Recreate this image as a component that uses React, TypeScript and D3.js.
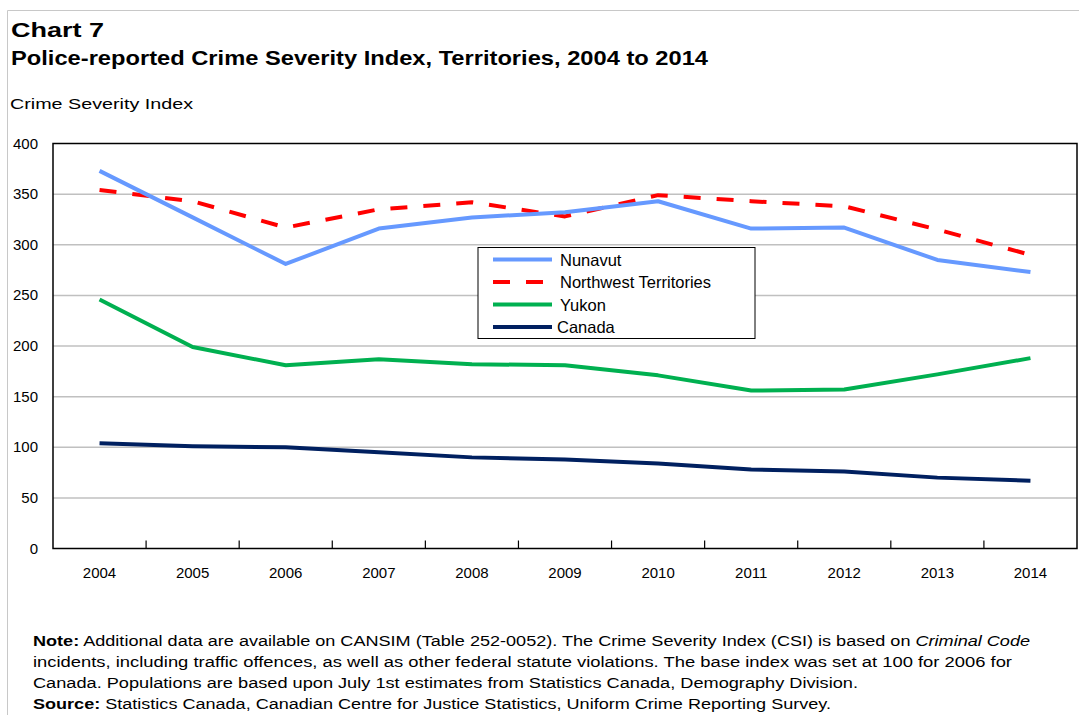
import * as d3 from "d3";

const years = ["2004", "2005", "2006", "2007", "2008", "2009", "2010", "2011", "2012", "2013", "2014"];
const nunavut = [373, 327, 281, 316, 327, 332, 343, 316, 317, 285, 273];
const northwest = [354, 343, 317, 335, 342, 328, 349, 343, 338, 315, 290];
const yukon = [246, 199, 181, 187, 182, 181, 171, 156, 157, 172, 188];
const canada = [104, 101, 100, 95, 90, 88, 84, 78, 76, 70, 67];
const yTicks = [0, 50, 100, 150, 200, 250, 300, 350, 400];

const series = [
  { name: "Nunavut", values: nunavut, color: "#6699FF", dash: "" },
  { name: "Northwest Territories", values: northwest, color: "#FF0000", dash: "17,16" },
  { name: "Yukon", values: yukon, color: "#00B050", dash: "" },
  { name: "Canada", values: canada, color: "#002060", dash: "" },
];

const font = "'Liberation Sans', Arial, sans-serif";

export default function App() {
  const left = 53, right = 1077, top = 143.5, bottom = 548.5;

  const x = d3.scaleBand().domain(years).range([left, right]);
  const y = d3.scaleLinear().domain([0, 400]).range([bottom, top]);

  const line = d3
    .line<number>()
    .x((_, i) => (x(years[i]) as number) + x.bandwidth() / 2)
    .y((d) => y(d));

  const tickXs = years.slice(1).map((yr) => x(yr) as number);

  return (
    <svg
      width={1079}
      height={715}
      style={{ position: "absolute", left: 0, top: 0, background: "#fff" }}
      fontFamily={font}
    >
      {/* outer frame */}
      <path d="M7.5,715 V10.5 H1079" fill="none" stroke="#C8C8C8" strokeWidth={1} />

      <text x={11} y={37} fontSize={20} fontWeight="bold" textLength={93} lengthAdjust="spacingAndGlyphs">
        Chart 7
      </text>
      <text x={11} y={65} fontSize={20} fontWeight="bold" textLength={697} lengthAdjust="spacingAndGlyphs">
        Police-reported Crime Severity Index, Territories, 2004 to 2014
      </text>
      <text x={10} y={109} fontSize={15} textLength={183} lengthAdjust="spacingAndGlyphs">
        Crime Severity Index
      </text>

      {/* gridlines */}
      {yTicks
        .filter((t) => t > 0 && t < 400)
        .map((t) => (
          <line key={t} x1={left} x2={right} y1={y(t)} y2={y(t)} stroke="#C0C0C0" strokeWidth={1.5} />
        ))}

      {/* y labels */}
      {yTicks.map((t) => (
        <text key={t} x={38} y={y(t) + 5} fontSize={15} textAnchor="end">
          {t}
        </text>
      ))}

      {/* plot frame */}
      <rect x={left} y={top} width={right - left} height={bottom - top} fill="none" stroke="#000" strokeWidth={1.5} />

      {/* x ticks */}
      {tickXs.map((tx) => (
        <line key={tx} x1={tx} x2={tx} y1={bottom} y2={bottom - 8} stroke="#000" strokeWidth={1.2} />
      ))}
      {years.map((yr) => (
        <text key={yr} x={(x(yr) as number) + x.bandwidth() / 2} y={578} fontSize={15} textAnchor="middle">
          {yr}
        </text>
      ))}

      {/* series lines */}
      {series
        .slice()
        .reverse()
        .map((s) => (
          <path
            key={s.name}
            d={line(s.values) ?? ""}
            fill="none"
            stroke={s.color}
            strokeWidth={4}
            strokeDasharray={s.dash || undefined}
            strokeLinejoin="round"
          />
        ))}

      {/* legend */}
      <rect x={478} y={247.5} width={277} height={91} fill="#fff" stroke="#000" strokeWidth={1} />
      {series.map((s, i) => {
        const ly = 259.5 + i * 22.5;
        return (
          <g key={s.name}>
            <line x1={493} x2={552} y1={ly} y2={ly} stroke={s.color} strokeWidth={4} strokeDasharray={s.dash || undefined} />
            <text x={i === 3 ? 557 : 560} y={ly + 6} fontSize={16.5}>
              {s.name}
            </text>
          </g>
        );
      })}

      {/* notes */}
      <g fontSize={14}>
        <text x={33} y={646} textLength={997} lengthAdjust="spacingAndGlyphs">
          <tspan fontWeight="bold">Note:</tspan> Additional data are available on CANSIM (Table 252-0052). The Crime Severity Index (CSI) is based on{" "}
          <tspan fontStyle="italic">Criminal Code</tspan>
        </text>
        <text x={33} y={667} textLength={979} lengthAdjust="spacingAndGlyphs">
          incidents, including traffic offences, as well as other federal statute violations. The base index was set at 100 for 2006 for
        </text>
        <text x={33} y={688} textLength={825} lengthAdjust="spacingAndGlyphs">
          Canada. Populations are based upon July 1st estimates from Statistics Canada, Demography Division.
        </text>
        <text x={33} y={709} textLength={798} lengthAdjust="spacingAndGlyphs">
          <tspan fontWeight="bold">Source:</tspan> Statistics Canada, Canadian Centre for Justice Statistics, Uniform Crime Reporting Survey.
        </text>
      </g>
    </svg>
  );
}
